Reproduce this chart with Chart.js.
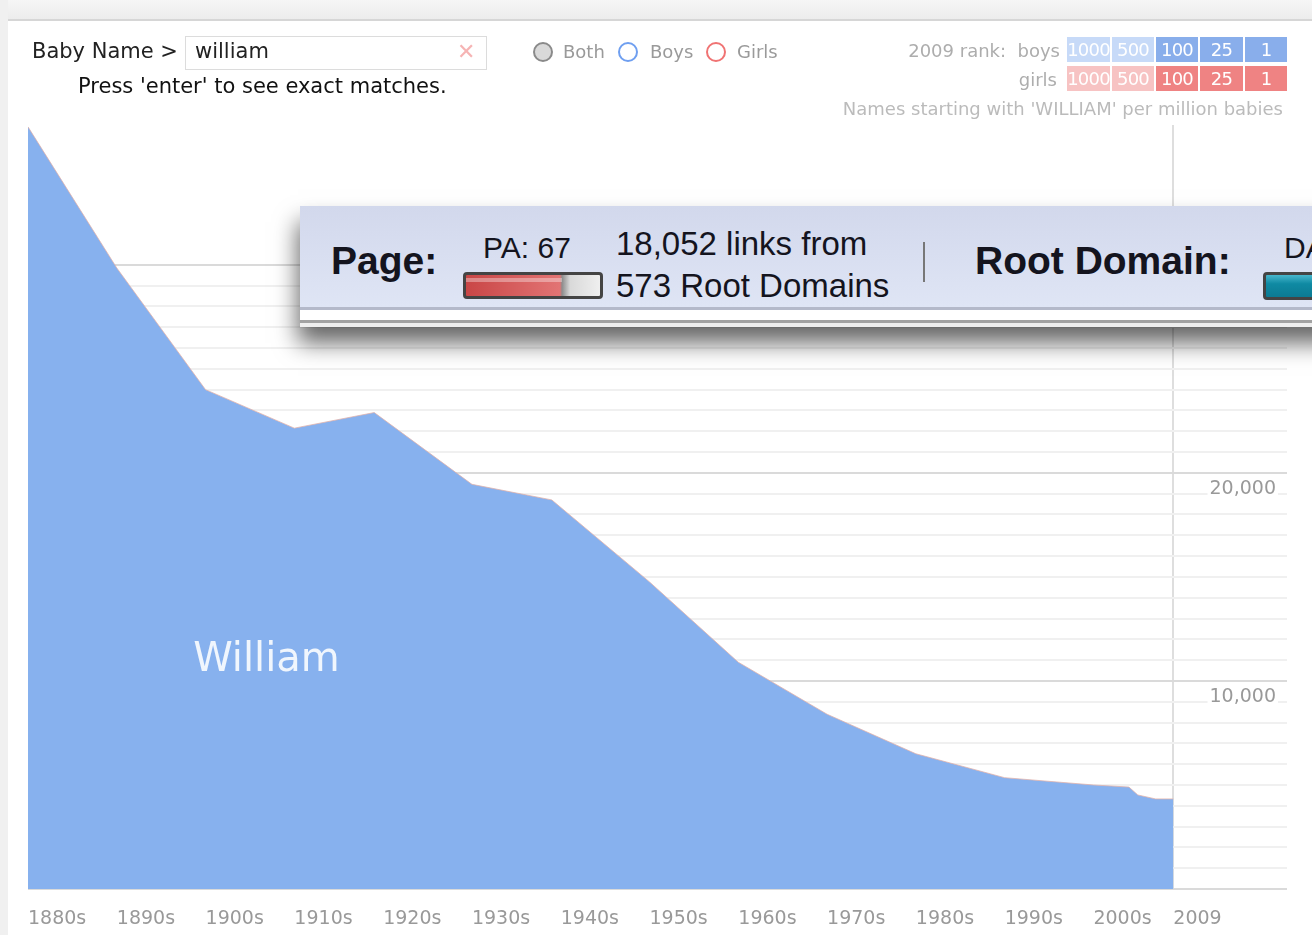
<!DOCTYPE html>
<html>
<head>
<meta charset="utf-8">
<script src="https://cdn.jsdelivr.net/npm/chart.js@4.4.1/dist/chart.umd.min.js"></script>
<style>
  html, body { margin: 0; padding: 0; }
  body { width: 1312px; height: 935px; overflow: hidden; position: relative; background: #fff; font-family: "DejaVu Sans", Verdana, sans-serif; }
  .abs { position: absolute; white-space: nowrap; }
  #topstrip { left: 0; top: 0; width: 1312px; height: 19px; background: linear-gradient(#f6f6f6, #ececec); }
  #topline { left: 8px; top: 19px; width: 1304px; height: 2px; background: #d6d6d6; }
  #leftstrip { left: 0; top: 0; width: 8px; height: 935px; background: #f0f0f0; }
  #chart { position: absolute; left: 0; top: 0; }
  .t21 { font-size: 21px; line-height: 21px; color: #222; }
  .t17 { font-size: 18px; line-height: 18px; color: #9a9a9a; }
  #nameBox { left: 185px; top: 36px; width: 300px; height: 32px; border: 1px solid #dcdcdc; background: #fff; }
  .radio { width: 16px; height: 16px; border-radius: 50%; border: 2px solid #888; }
  .rk { height: 25px; line-height: 25px; text-align: center; color: #fff; font-size: 18px; letter-spacing: -0.8px; }
  .b1 { background: #c7daf8; } .b2 { background: #89aeeb; }
  .g1 { background: #f7c3c3; } .g2 { background: #ef8383; }
  #moz { left: 300px; top: 206px; width: 1100px; height: 121px; background: #eee; box-shadow: -2px 16px 22px rgba(0,0,0,0.6); z-index: 5; }
  #mozTop { left: 0; top: 0; width: 1100px; height: 101px; background: linear-gradient(#d2d8ec, #dfe5f5); border-bottom: 3px solid #b4b9ca; }
  #mozWhite { left: 0; top: 104px; width: 1100px; height: 10px; background: #fff; }
  #mozGray { left: 0; top: 114px; width: 1100px; height: 3px; background: #a2a2a2; }
  .moz { font-family: "Liberation Sans", Arial, sans-serif; color: #14141e; }
  .mb { font-weight: bold; font-size: 39px; line-height: 39px; }
  #paBar { left: 163px; top: 66px; width: 134px; height: 21px; border: 3px solid #444; border-radius: 4px; overflow: hidden;
           background: linear-gradient(90deg, #c94646 0, #e27474 94px, #8c8c8c 96px, #d9d9d9 104px, #efefef 134px); }
  #paShine { left: 0; top: 3px; width: 96px; height: 4px; background: rgba(255,255,255,0.35); }
  #daBar { left: 963px; top: 66px; width: 120px; height: 22px; border: 3px solid #444; border-radius: 4px;
           background: linear-gradient(#48b6cc, #0f8aa3 40%, #0c7a92); }
  #sep { left: 623px; top: 36px; width: 2px; height: 40px; background: #777; }
</style>
</head>
<body>
<div id="topstrip" class="abs"></div>
<div id="leftstrip" class="abs"></div>
<div id="topline" class="abs"></div>

<canvas id="chart" width="1312" height="935"></canvas>

<div class="abs t21" style="left:32px; top:41px;">Baby Name &gt;</div>
<div id="nameBox" class="abs"></div>
<div class="abs t21" style="left:195px; top:41px;">william</div>
<div class="abs" style="left:457px; top:41px; font-size:22px; line-height:22px; color:#f6b4b4;">&#10005;</div>
<div class="abs t21" style="left:78px; top:76px; color:#111;">Press 'enter' to see exact matches.</div>

<div class="abs radio" style="left:533px; top:42px; background:#d9d9d9; border-color:#8a8a8a;"></div>
<div class="abs t17" style="left:563px; top:43px;">Both</div>
<div class="abs radio" style="left:618px; top:42px; background:#fff; border-color:#6f9ff0;"></div>
<div class="abs t17" style="left:650px; top:43px;">Boys</div>
<div class="abs radio" style="left:706px; top:42px; background:#fff; border-color:#f07373;"></div>
<div class="abs t17" style="left:737px; top:43px;">Girls</div>

<div class="abs t17" style="right:252px; top:42px; color:#adadad;">2009 rank:&nbsp; boys</div>
<div class="abs t17" style="right:255px; top:71px; color:#adadad;">girls</div>
<div class="abs rk b1" style="left:1067px; top:37px; width:43px;">1000</div>
<div class="abs rk b1" style="left:1112px; top:37px; width:42px;">500</div>
<div class="abs rk b2" style="left:1156px; top:37px; width:42px;">100</div>
<div class="abs rk b2" style="left:1200px; top:37px; width:43px;">25</div>
<div class="abs rk b2" style="left:1245px; top:37px; width:42px;">1</div>
<div class="abs rk g1" style="left:1067px; top:66px; width:43px;">1000</div>
<div class="abs rk g1" style="left:1112px; top:66px; width:42px;">500</div>
<div class="abs rk g2" style="left:1156px; top:66px; width:42px;">100</div>
<div class="abs rk g2" style="left:1200px; top:66px; width:43px;">25</div>
<div class="abs rk g2" style="left:1245px; top:66px; width:42px;">1</div>
<div class="abs t17" style="right:29px; top:100px; color:#bbbbbb;">Names starting with 'WILLIAM' per million babies</div>

<div id="moz" class="abs">
  <div id="mozTop" class="abs"></div>
  <div id="mozWhite" class="abs"></div>
  <div id="mozGray" class="abs"></div>
  <div class="abs moz mb" style="left:31px; top:35px;">Page:</div>
  <div class="abs moz" style="left:183px; top:27px; font-size:30px; line-height:30px;">PA: 67</div>
  <div id="paBar" class="abs"><div id="paShine" class="abs"></div></div>
  <div class="abs moz" style="left:316px; top:21px; font-size:33px; line-height:33px;">18,052 links from</div>
  <div class="abs moz" style="left:316px; top:63px; font-size:33px; line-height:33px;">573 Root Domains</div>
  <div id="sep" class="abs"></div>
  <div class="abs moz mb" style="left:675px; top:35px;">Root Domain:</div>
  <div class="abs moz" style="left:984px; top:27px; font-size:30px; line-height:30px;">DA: 96</div>
  <div id="daBar" class="abs"></div>
</div>

<script>
// William (names starting with 'WILLIAM'), per million babies
const years = [1880, 1890, 1900, 1910, 1919, 1930, 1939, 1950, 1960, 1970, 1980, 1990, 2000, 2004, 2005, 2007, 2009];
const perMillion = [36630, 29850, 24000, 22150, 22900, 19450, 18700, 14760, 10900, 8400, 6500, 5350, 5000, 4900, 4520, 4330, 4330];
const decadeTicks = [1880, 1890, 1900, 1910, 1920, 1930, 1940, 1950, 1960, 1970, 1980, 1990, 2000, 2009];
const labelledValues = [10000, 20000, 30000];
const gridStep = 1000;
const gridTop = 30000;
const seriesName = "William";

// where the plot box sits in the screenshot, and where the y labels end
const plotBox = { left: 28, top: 125, right: 1287, bottom: 889 };
const yLabelRight = 1276;

Chart.defaults.font.family = "'DejaVu Sans', Verdana, sans-serif";

const seriesLabel = {
  id: "seriesLabel",
  afterDatasetsDraw(chart) {
    const { ctx, scales } = chart;
    ctx.save();
    ctx.font = "40px 'DejaVu Sans', Verdana, sans-serif";
    ctx.fillStyle = "rgba(255,255,255,0.88)";
    ctx.textBaseline = "middle";
    ctx.fillText(chart.data.datasets[0].label, scales.x.getPixelForValue(1898.6), scales.y.getPixelForValue(11000));
    ctx.restore();
  }
};

const chart = new Chart(document.getElementById("chart"), {
  type: "line",
  data: {
    datasets: [{
      label: seriesName,
      data: years.map((y, i) => ({ x: y, y: perMillion[i] })),
      fill: "origin",
      backgroundColor: "#87b1ee",
      borderColor: "rgba(226,176,168,0.75)",
      borderWidth: 1,
      pointRadius: 0,
      tension: 0
    }]
  },
  options: {
    responsive: false,
    devicePixelRatio: 1,
    animation: false,
    layout: { padding: { left: 28, right: 25, top: 125, bottom: 4 } },
    plugins: { legend: { display: false }, tooltip: { enabled: false } },
    scales: {
      x: {
        type: "linear",
        min: 1880,
        max: 2021.8,
        afterBuildTicks: (scale) => { scale.ticks = decadeTicks.map(v => ({ value: v })); },
        border: { display: false },
        grid: {
          drawTicks: false,
          lineWidth: 2,
          color: (c) => (c.tick && c.tick.value === 2009 ? "#dedede" : "rgba(0,0,0,0)")
        },
        ticks: {
          autoSkip: false,
          maxRotation: 0,
          align: "start",
          padding: 19,
          color: "#999",
          font: { size: 19 },
          callback: (v) => (v === 2009 ? "2009" : v + "s")
        }
      },
      y: {
        position: "right",
        min: 0,
        max: 36720,
        afterBuildTicks: (scale) => {
          const t = [];
          for (let v = 0; v <= gridTop; v += gridStep) t.push({ value: v });
          scale.ticks = t;
        },
        afterFit: (scale) => { scale.width = 0; },
        border: { display: false },
        grid: {
          drawTicks: false,
          lineWidth: 2,
          color: (c) => (c.tick && c.tick.value % 10000 === 0 ? "#dadada" : "#f0f0f0")
        },
        ticks: {
          autoSkip: false,
          mirror: true,
          crossAlign: "near",
          padding: -11,
          labelOffset: 16,
          color: "#999",
          font: { size: 19 },
          showLabelBackdrop: (c) => !!(c.tick && labelledValues.includes(c.tick.value)),
          backdropColor: "#fff",
          backdropPadding: { left: 2, right: 2, top: 0, bottom: 2 },
          callback: (v) => (labelledValues.includes(v) ? v.toLocaleString("en-US") : "")
        }
      }
    }
  },
  plugins: [seriesLabel]
});

// nudge the layout padding so the plot box lands where it is in the screenshot
const pad = chart.options.layout.padding;
const ca0 = Object.assign({}, chart.chartArea);
pad.left += plotBox.left - ca0.left;
pad.top += plotBox.top - ca0.top;
pad.right += ca0.right - plotBox.right;
pad.bottom += ca0.bottom - plotBox.bottom;
chart.update();

// make the y labels end where they do in the screenshot
const yItem = chart.scales.y.getLabelItems().find(it => it.label);
if (yItem) {
  const drawnRight = yItem.options.translation[0];
  const yTicks = chart.options.scales.y.ticks;
  if (Math.abs(drawnRight - yLabelRight) > 0.5) {
    const before = yTicks.padding;
    yTicks.padding = before + 1;
    chart.update();
    const moved = chart.scales.y.getLabelItems().find(it => it.label).options.translation[0] - drawnRight;
    yTicks.padding = before + (yLabelRight - drawnRight) / (moved || 1);
    chart.update();
  }
}
</script>
</body>
</html>
